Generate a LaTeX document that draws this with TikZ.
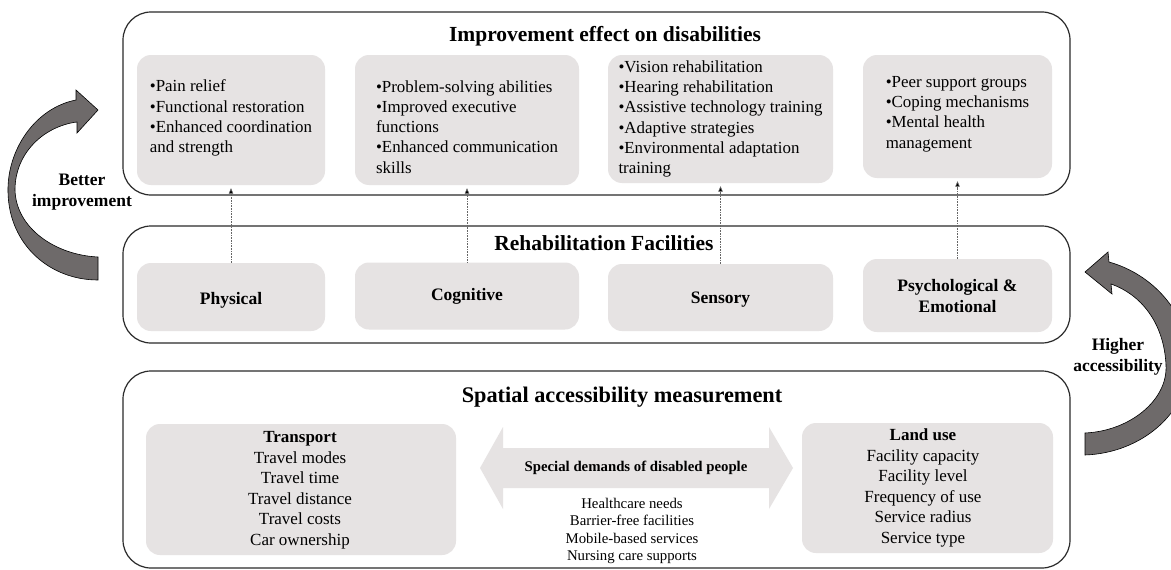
\documentclass[tikz,border=0pt]{standalone}
\usepackage{fontspec}
\setmainfont{Liberation Serif}
\usetikzlibrary{arrows.meta}
\definecolor{boxgray}{HTML}{E6E3E3}
\definecolor{arrowgray}{HTML}{6E6A6A}
\definecolor{linegray}{HTML}{2A2A2A}
\tikzset{
  outerbox/.style={draw=linegray, line width=1.2pt, rounded corners=28pt, inner sep=0pt},
  inbox/.style={fill=boxgray, rounded corners=14pt, inner sep=0pt},
  body/.style={font=\fontsize{16.9}{20.2}\selectfont, align=left, inner sep=0pt},
  cbody/.style={font=\fontsize{17}{20.5}\selectfont, align=center, inner sep=0pt},
  small/.style={font=\fontsize{14.8}{17.4}\selectfont, align=center, inner sep=0pt},
  title/.style={font=\fontsize{21.5}{24}\selectfont\bfseries, inner sep=0pt},
  lab/.style={font=\fontsize{17.5}{21.5}\selectfont\bfseries, align=center, inner sep=0pt},
  dotarr/.style={densely dotted, draw=black!60, line width=0.6pt, -{Triangle[width=4.5pt,length=5.5pt,fill=black]}, shorten >=3pt},
  bigarrow/.style={fill=arrowgray, draw=black, line width=0.6pt},
}
\begin{document}
\begin{tikzpicture}[x=1pt,y=-1pt]
\clip (0,0) rectangle (1171,570);
\fill[white] (0,0) rectangle (1171,570);

% outer boxes
\node[outerbox, minimum width=947pt, minimum height=183pt] (top) at (596.5,103.5) {};
\node[outerbox, minimum width=947pt, minimum height=117pt] (mid) at (596.5,284.5) {};
\node[outerbox, minimum width=947pt, minimum height=197pt] (bot) at (596.5,469.5) {};

% titles
\node[title] (ttop) at (605,36) {Improvement effect on disabilities};
\node[title] (tmid) at (604,243) {Rehabilitation Facilities};
\node[title, font=\fontsize{22.3}{24}\selectfont\bfseries] (tbot) at (622,397) {Spatial accessibility measurement};

% top inner boxes
\node[inbox, minimum width=188pt, minimum height=130pt] (imp1) at (231,120) {};
\node[inbox, minimum width=224pt, minimum height=130pt] (imp2) at (467,120) {};
\node[inbox, minimum width=225pt, minimum height=128pt] (imp3) at (720.5,119) {};
\node[inbox, minimum width=189pt, minimum height=123pt] (imp4) at (957.5,116.5) {};

\node[body] (timp1) at (231,118) {•Pain relief\\•Functional restoration\\•Enhanced coordination\\and strength};
\node[body] (timp2) at (467,127) {•Problem-solving abilities\\•Improved executive\\functions\\•Enhanced communication\\skills};
\node[body] (timp3) at (720.5,119) {•Vision rehabilitation\\•Hearing rehabilitation\\•Assistive technology training\\•Adaptive strategies\\•Environmental adaptation\\training};
\node[body] (timp4) at (957.5,114) {•Peer support groups\\•Coping mechanisms\\•Mental health\\management};

% rehabilitation boxes
\node[inbox, minimum width=188pt, minimum height=68pt] (rb1) at (231,297) {};
\node[inbox, minimum width=224pt, minimum height=67pt] (rb2) at (467,296) {};
\node[inbox, minimum width=225pt, minimum height=67pt] (rb3) at (720.5,297.5) {};
\node[inbox, minimum width=189pt, minimum height=73pt] (rb4) at (957.5,295.5) {};

\node[lab] (lrb1) at (231,300) {Physical};
\node[lab] (lrb2) at (467,296) {Cognitive};
\node[lab] (lrb3) at (720.5,300) {Sensory};
\node[lab] (lrb4) at (957.5,296) {Psychological \&\\Emotional};

% dotted arrows
\draw[dotarr] (rb1) -- (imp1);
\draw[dotarr] (rb2) -- (imp2);
\draw[dotarr] (rb3) -- (imp3);
\draw[dotarr] (rb4) -- (imp4);

% bottom boxes
\node[inbox, minimum width=310pt, minimum height=131pt] (tr) at (301,489.5) {};
\node[inbox, minimum width=251pt, minimum height=130pt] (lu) at (927.5,488) {};
\node[cbody] (ttr) at (300,490) {\textbf{Transport}\\Travel modes\\Travel time\\Travel distance\\Travel costs\\Car ownership};
\node[cbody] (tlu) at (923,488) {\textbf{Land use}\\Facility capacity\\Facility level\\Frequency of use\\Service radius\\Service type};

% double arrow
\fill[boxgray] (480,468) -- (503,427) -- (503,448) -- (769,448) -- (769,427) -- (793,468)
  -- (769,509) -- (769,488) -- (503,488) -- (503,509) -- cycle;
\node[small, font=\fontsize{14.8}{16}\selectfont\bfseries] (sd) at (636,468) {Special demands of disabled people};
\node[small] (sdl) at (632,531) {Healthcare needs\\Barrier-free facilities\\Mobile-based services\\Nursing care supports};

% curved arrows
\draw[bigarrow] (98,257) .. controls (55,255) and (16,228) .. (15,190)
  .. controls (15,152) and (45,126) .. (77,122) -- (77,133) -- (98,110) -- (76,90) -- (76,100)
  .. controls (35,108) and (7,150) .. (8,192) .. controls (9,245) and (50,280) .. (98,280) -- cycle;
\node[lab] (lbi) at (82,192) {Better\\improvement};

\draw[bigarrow] (1085,433) .. controls (1130,431) and (1168,400) .. (1166,365)
  .. controls (1164,322) and (1140,294) .. (1111,284) -- (1112,294) -- (1085,272) -- (1108,252) -- (1109,262)
  .. controls (1152,274) and (1188,312) .. (1189,360) .. controls (1190,412) and (1142,453) .. (1085,455) -- cycle;
\node[lab] (lha) at (1118,357) {Higher\\accessibility};
\end{tikzpicture}
\end{document}
